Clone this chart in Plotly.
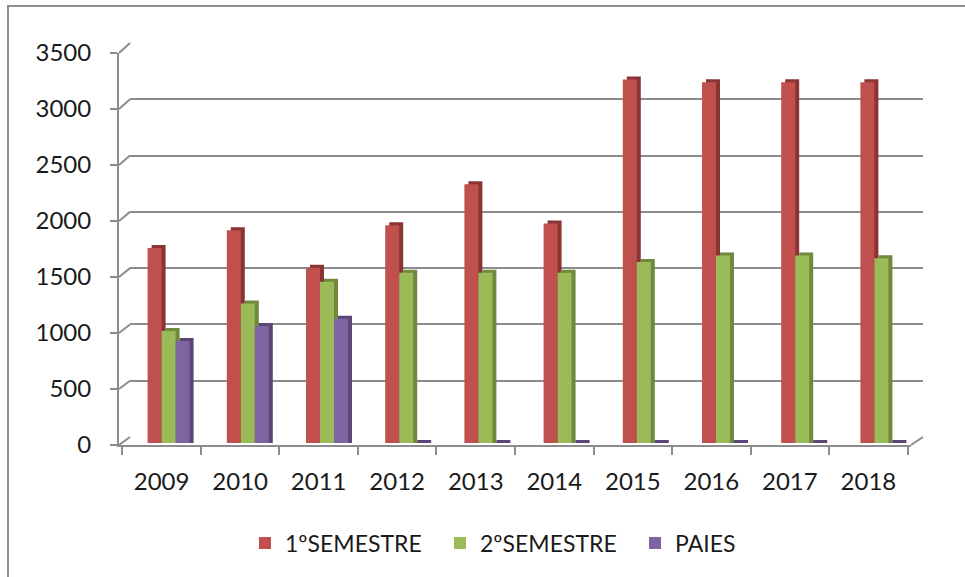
import plotly.graph_objects as go

years = ["2009", "2010", "2011", "2012", "2013", "2014", "2015", "2016", "2017", "2018"]
sem1 = [1740, 1900, 1565, 1945, 2310, 1960, 3245, 3220, 3220, 3220]
sem2 = [1000, 1245, 1440, 1520, 1520, 1520, 1615, 1675, 1675, 1650]
paies = [910, 1045, 1110, 0, 0, 0, 0, 0, 0, 0]
series_names = ["1ºSEMESTRE", "2ºSEMESTRE", "PAIES"]
y_ticks = [0, 500, 1000, 1500, 2000, 2500, 3000, 3500]

W, H = 965, 577
def fx(px):
    return px / W
def fy(py):
    return 1 - py / H

FONT = "Lato"
TXT = "#1a1a1a"
GRID = "#8c8c8c"
front_colors = ["#C0504D", "#9BBB59", "#8064A2"]
side_colors = ["#8A3533", "#6F8A3C", "#5B4677"]

YMAX = 3500
# front plane
FX0, FX1, FY0, FY1 = 119, 911, 445, 53
# back wall
BX0, BX1, BY0, BY1 = 130, 923, 437, 43
# bar plane
PX0, PX1, PY0, PY1 = 129, 921, 443, 51

fig = go.Figure()

fig.add_trace(go.Scatter(x=years, y=[0] * len(years), xaxis="x2", yaxis="y2",
                         mode="markers", marker=dict(size=1, opacity=0),
                         showlegend=False, hoverinfo="skip"))
fig.add_trace(go.Scatter(x=years, y=[0] * len(years), xaxis="x", yaxis="y",
                         mode="markers", marker=dict(size=1, opacity=0),
                         showlegend=False, hoverinfo="skip"))

w = 14 / ((PX1 - PX0) / len(years))
dx = 4 / ((PX1 - PX0) / len(years))
dy = 3 / ((PY0 - PY1) / YMAX)
for i, vals in enumerate([sem1, sem2, paies]):
    off = (i - 1.5) * w
    fig.add_trace(go.Bar(x=years, y=[v + dy for v in vals], xaxis="x3", yaxis="y3",
                         offset=off + dx, width=w, marker=dict(color=side_colors[i], line_width=0),
                         showlegend=False, hoverinfo="skip"))
    fig.add_trace(go.Bar(x=years, y=vals, xaxis="x3", yaxis="y3", name=series_names[i],
                         offset=off, width=w, marker=dict(color=front_colors[i], line_width=0)))

shapes = []
shapes.append(dict(type="rect", xref="paper", yref="paper", x0=fx(8), y0=fy(H + 20),
                   x1=fx(W + 20), y1=fy(6), line=dict(color="#8e8e8e", width=2)))
for v in y_ticks:
    yf = FY0 + (FY1 - FY0) * v / YMAX
    yb = BY0 + (BY1 - BY0) * v / YMAX
    shapes.append(dict(type="line", xref="paper", yref="paper", x0=fx(FX0), y0=fy(yf),
                       x1=fx(BX0), y1=fy(yb), line=dict(color=GRID, width=2), layer="below"))
shapes.append(dict(type="line", xref="paper", yref="paper", x0=fx(FX1), y0=fy(FY0),
                   x1=fx(BX1), y1=fy(BY0), line=dict(color=GRID, width=2), layer="below"))

fig.update_layout(
    width=W, height=H,
    margin=dict(l=0, r=0, t=0, b=0, pad=0, autoexpand=False),
    paper_bgcolor="white", plot_bgcolor="rgba(0,0,0,0)",
    barmode="overlay",
    font=dict(family=FONT, size=24, color=TXT),
    showlegend=True,
    legend=dict(orientation="h", x=fx(245), xanchor="left", y=fy(543), yanchor="middle",
                font=dict(family=FONT, size=23, color=TXT), itemwidth=30,
                entrywidth=150, entrywidthmode="pixels",
                bgcolor="rgba(0,0,0,0)"),
    shapes=shapes,
    xaxis=dict(domain=[fx(FX0), fx(FX1)], type="category", categoryorder="array",
               categoryarray=years, anchor="y", showline=True, linecolor=GRID, linewidth=2,
               ticks="outside", tickson="boundaries", ticklen=8, tickwidth=2, tickcolor=GRID,
               showgrid=False, zeroline=False, ticklabelstandoff=14, automargin=False,
               tickfont=dict(family=FONT, size=24, color=TXT), fixedrange=True),
    yaxis=dict(domain=[fy(FY0), fy(FY1)], range=[0, YMAX], tickvals=y_ticks, anchor="x",
               showline=True, linecolor=GRID, linewidth=2, ticks="outside", ticklen=7,
               tickwidth=2, tickcolor=GRID, showgrid=False, zeroline=False, automargin=False,
               ticklabelstandoff=14, tickfont=dict(family=FONT, size=24, color=TXT)),
    xaxis2=dict(domain=[fx(BX0), fx(BX1)], type="category", categoryarray=years,
                categoryorder="array", anchor="y2", visible=False),
    yaxis2=dict(domain=[fy(BY0), fy(BY1)], range=[0, YMAX], tickvals=y_ticks, anchor="x2",
                showgrid=True, gridcolor=GRID, gridwidth=2, zeroline=False, showline=False,
                showticklabels=False, ticks=""),
    xaxis3=dict(domain=[fx(PX0), fx(PX1)], type="category", categoryarray=years,
                categoryorder="array", anchor="y3", visible=False),
    yaxis3=dict(domain=[fy(PY0), fy(PY1)], range=[0, YMAX], anchor="x3", visible=False),
)

fig.write_html("out.html", config={"displayModeBar": False},
               post_script="document.body.style.margin='0';")
